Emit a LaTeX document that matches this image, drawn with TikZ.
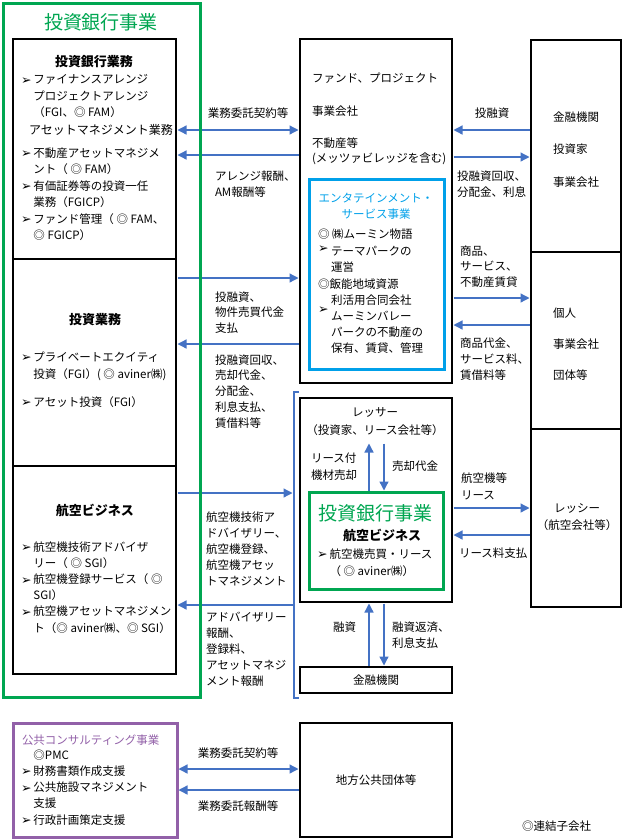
\documentclass[tikz,border=0pt]{standalone}
\usepackage{fontspec}
\setmainfont{Noto Sans CJK JP}
\newfontfamily\dvfont{DejaVu Sans}
\usetikzlibrary{arrows.meta}
\definecolor{grn}{RGB}{0,166,81}
\definecolor{cyn}{RGB}{0,160,233}
\definecolor{prp}{RGB}{146,96,168}
\definecolor{arw}{RGB}{68,114,196}
\newcommand\bul{\makebox[12.5pt][l]{\raisebox{-0.5pt}{\dvfont\fontsize{12.5}{10}\selectfont ➢}}}
\newcommand\ind{\hspace*{12.5pt}}
\begin{document}
\begin{tikzpicture}[x=1pt,y=-1pt,
  every node/.style={inner sep=0pt, outer sep=0pt},
  txt/.style={align=left, anchor=north west, font=\fontsize{11.5}{#1}\selectfont},
  txt/.default=16.5,
  ctxt/.style={align=center, font=\fontsize{11.5}{#1}\selectfont},
  ctxt/.default=16.5,
  hd/.style={font=\fontsize{13}{16}\selectfont\bfseries},
  big/.style={font=\fontsize{19}{20}\selectfont, text=grn},
  bx/.style={draw, line width=2.2pt, font=\fontsize{11.5}{16.5}\selectfont},
  con/.style={draw=arw, line width=1.3pt, -{Triangle[length=9pt,width=9pt]}, shorten >=1.5pt, shorten <=1.5pt},
  dcon/.style={con, {Triangle[length=9pt,width=9pt]}-{Triangle[length=9pt,width=9pt]}}]
\useasboundingbox (0,0) rectangle (623,839);

% ---------- boxes ----------
\node[bx, minimum width=163pt, minimum height=220pt] (s1) at (94.5,149) {};
\node[bx, minimum width=163pt, minimum height=207pt] (s2) at (94.5,362.5) {};
\node[bx, minimum width=163pt, minimum height=208pt] (s3) at (94.5,570) {};
\node[bx, minimum width=152pt, minimum height=344pt] (mt) at (376,211) {};
\node[draw=cyn, line width=3pt, minimum width=135pt, minimum height=190pt] (ent) at (376.5,274) {};
\node[bx, minimum width=90pt, minimum height=212pt] (r1) at (576,146) {};
\node[bx, minimum width=90pt, minimum height=177pt] (r2) at (576,340.5) {};
\node[bx, minimum width=90pt, minimum height=178pt] (r3) at (576,518) {};
\node[bx, minimum width=152pt, minimum height=204pt] (ml) at (376,500) {};
\node[draw=grn, line width=3pt, minimum width=134pt, minimum height=97pt] (gi) at (376,540.5) {};
\node[bx, minimum width=152pt, minimum height=26pt] (fin) at (376,680) {金融機関};
\node[draw=prp, line width=3pt, minimum width=164pt, minimum height=114pt] (pc) at (95,780) {};
\node[bx, minimum width=152pt, minimum height=114pt] (lg) at (376,780) {地方公共団体等};

% ---------- left column texts ----------
\node[big] (ttl) at (101,22) {投資銀行事業};
\node[hd] (h1) at (94,62) {投資銀行業務};
\node[txt] (t1) at (21,74.5) {\bul ファイナンスアレンジ\\\ind プロジェクトアレンジ\\\ind （FGI、◎ FAM）};
\node[font=\fontsize{12}{16}\selectfont] (h2) at (101,130) {アセットマネジメント業務};
\node[txt] (t2) at (21,147.5) {\bul 不動産アセットマネジメ\\\ind ント（ ◎ FAM）\\\bul 有価証券等の投資一任\\\ind 業務（FGICP）\\\bul ファンド管理（ ◎ FAM、\\\ind ◎ FGICP）};

\node[hd] (h3) at (95,320) {投資業務};
\node[txt=17] (t3) at (21,351.5) {\bul プライベートエクイティ\\\ind 投資（FGI）( ◎ aviner㈱)};
\node[txt] (t4) at (21,396.5) {\bul アセット投資（FGI）};

\node[hd] (h4) at (95,510) {航空ビジネス};
\node[txt=16.2] (t5) at (21,541.5) {\bul 航空機技術アドバイザ\\\ind リー（ ◎ SGI）\\\bul 航空機登録サービス（ ◎\\\ind SGI）\\\bul 航空機アセットマネジメン\\\ind ト（◎ aviner㈱、◎ SGI）};

% ---------- middle top box ----------
\node[txt] (m1) at (312,72.5) {ファンド、プロジェクト};
\node[txt] (m2) at (312,105.5) {事業会社};
\node[txt=15.5] (m3) at (312,137.5) {不動産等\\(メッツァビレッジを含む)};
\node[ctxt=16, text=cyn, anchor=north] (eh) at (376,193.5) {エンタテインメント・\\サービス事業};
\node[txt] (e1) at (318,228.5) {◎ ㈱ムーミン物語};
\node[font=\fontsize{11.5}{16}\selectfont, anchor=west] (eb1) at (318,249) {\bul};
\node[txt=16] (e2) at (331,246.5) {テーマパークの\\運営};
\node[txt] (e3) at (318,278.5) {◎飯能地域資源};
\node[txt] (e4) at (331,294.5) {利活用合同会社};
\node[font=\fontsize{11.5}{16}\selectfont, anchor=west] (eb2) at (318,310) {\bul};
\node[txt=15.6] (e5) at (331,311.5) {ムーミンバレー\\パークの不動産の\\保有、賃貸、管理};

% ---------- right column ----------
\node[txt=32.5] (rt1) at (553,111.5) {金融機関\\投資家\\事業会社};
\node[txt=31] (rt2) at (553,307.5) {個人\\事業会社\\団体等};
\node[ctxt=17] (rt3) at (577,517.5) {レッシー\\（航空会社等）};

% ---------- arrow labels right ----------
\node[font=\fontsize{11.5}{16}\selectfont] (lb1) at (492,113) {投融資};
\node[txt=16] (lb2) at (457,170.5) {投融資回収、\\分配金、利息};
\node[txt=15.5] (lb3) at (460,245.5) {商品、\\サービス、\\不動産賃貸};
\node[txt=16] (lb4) at (460,337.5) {商品代金、\\サービス料、\\賃借料等};
\node[txt=17] (lb5) at (461,472.5) {航空機等\\リース};
\node[txt] (lb6) at (459,547.5) {リース料支払};

% ---------- arrow labels left ----------
\node[font=\fontsize{11.5}{16}\selectfont] (la1) at (248,113) {業務委託契約等};
\node[txt=16] (la2) at (215,170.5) {アレンジ報酬、\\AM報酬等};
\node[txt=15.5] (la3) at (215,291.5) {投融資、\\物件売買代金\\支払};
\node[txt=15.8] (la4) at (215,354.5) {投融資回収、\\売却代金、\\分配金、\\利息支払、\\賃借料等};
\node[txt=16] (la5) at (206,511.5) {航空機技術ア\\ドバイザリー、\\航空機登録、\\航空機アセッ\\トマネジメント};
\node[txt=16] (la6) at (206,612.5) {アドバイザリー\\報酬、\\登録料、\\アセットマネジ\\メント報酬};

% ---------- middle lower box ----------
\node[ctxt=18] (les) at (375,422) {レッサー\\（投資家、リース会社等）};
\coordinate (lesb) at (376,442);
\node[txt=17] (lf) at (311,452.5) {リース付\\機材売却};
\node[font=\fontsize{11.5}{16}\selectfont, anchor=west] (sd) at (392,466) {売却代金};
\node[big] (gt) at (375,513) {投資銀行事業};
\node[hd] (gh) at (382,535) {航空ビジネス};
\node[txt=17] (gb) at (317,548.5) {\bul 航空機売買・リース\\\ind （ ◎ aviner㈱）};
\node[font=\fontsize{11.5}{16}\selectfont, anchor=west] (ys) at (333,627) {融資};
\node[txt=16] (yr) at (392,621.5) {融資返済、\\利息支払};

% ---------- bottom ----------
\node[font=\fontsize{11.5}{16}\selectfont, text=prp, anchor=west] (pt) at (22,740) {公共コンサルティング事業};
\node[txt=16.3] (pl) at (21,749.5) {\ind ◎PMC\\\bul 財務書類作成支援\\\bul 公共施設マネジメント\\\ind 支援\\\bul 行政計画策定支援};
\node[font=\fontsize{11.5}{16}\selectfont] (lc1) at (238,753) {業務委託契約等};
\node[font=\fontsize{11.5}{16}\selectfont] (lc2) at (238,806) {業務委託報酬等};
\node[font=\fontsize{11.5}{16}\selectfont, anchor=west] (note) at (522,826) {◎連結子会社};

% ---------- bracket ----------
\coordinate (brT) at (294,392);
\coordinate (brB) at (294,698);
\coordinate (brk) at (294,545);
\draw[draw=arw, line width=1.3pt] ([xshift=5pt]brT) -- (brT) -- (brB) -- ([xshift=5pt]brB);

% ---------- connectors ----------
\draw[dcon] (s1.east |- 0,130) -- (mt.west |- 0,130);
\draw[con] (mt.west |- 0,155) -- (s1.east |- 0,155);
\draw[con] (s2.east |- 0,278) -- (mt.west |- 0,278);
\draw[con] (mt.west |- 0,344) -- (s2.east |- 0,344);
\draw[con] (s3.east |- 0,493) -- (brk |- 0,493);
\draw[con] (brk |- 0,605) -- (s3.east |- 0,605);
\draw[con] (r1.west |- 0,130) -- (mt.east |- 0,130);
\draw[con] (mt.east |- 0,157) -- (r1.west |- 0,157);
\draw[con] (mt.east |- 0,298) -- (r2.west |- 0,298);
\draw[con] (r2.west |- 0,325) -- (mt.east |- 0,325);
\draw[con] (ml.east |- 0,508) -- (r3.west |- 0,508);
\draw[con] (r3.west |- 0,535) -- (ml.east |- 0,535);
\draw[con] (gi.north -| 369,0) -- (lesb -| 369,0);
\draw[con] (lesb -| 384,0) -- (gi.north -| 384,0);
\draw[con] (fin.north -| 369,0) -- (ml.south -| 369,0);
\draw[con] (ml.south -| 384,0) -- (fin.north -| 384,0);
\draw[dcon] (pc.east |- 0,769) -- (lg.west |- 0,769);
\draw[con] (lg.west |- 0,790) -- (pc.east |- 0,790);

% ---------- outer green frame (on top) ----------
\node[draw=grn, line width=3pt, minimum width=197pt, minimum height=694pt] (gr) at (101.5,350) {};
\end{tikzpicture}
\end{document}
